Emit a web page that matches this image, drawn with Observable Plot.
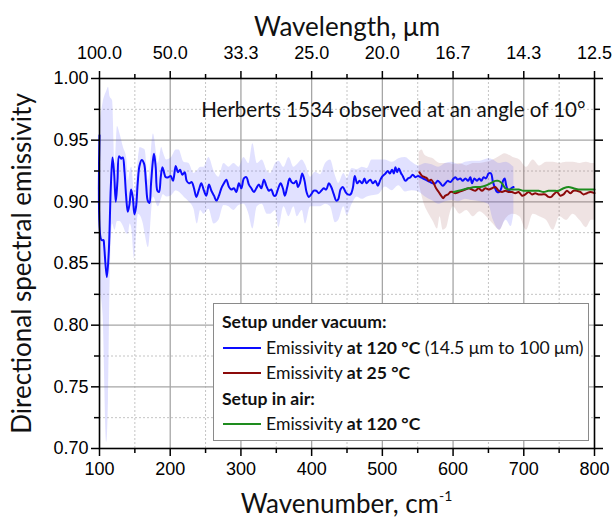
<!DOCTYPE html>
<html><head><meta charset="utf-8">
<script src="https://cdn.jsdelivr.net/npm/d3@7"></script>
<script src="https://cdn.jsdelivr.net/npm/@observablehq/plot@0.6"></script>
<style>
body{margin:0;background:#fff}
#wrap{position:relative;width:613px;height:525px;overflow:hidden}
#legend{position:absolute;left:213px;top:303px;width:374px;height:131px;border:1px solid #8a8a8a;background:#fff;font-family:Lato,"Open Sans",sans-serif;font-size:17.6px;color:#111;padding-top:5px;box-sizing:content-box}
#legend .row{height:25.5px;line-height:25.5px;white-space:nowrap;position:relative}
#legend .hdr{font-weight:bold;padding-left:8px}
#legend .item{padding-left:52px}
#legend .sw{position:absolute;left:9px;top:12px;width:38px;height:0;border-top:2px solid}
</style>
</head><body><div id="wrap"></div>
<script>
// ---- data (wavenumber cm^-1, emissivity) ----
const vacuum120 = [[100,0.954],[102.8,0.869],[105.6,0.869],[106.5,0.865],[110.3,0.839],[113,0.858],[116,0.912],[118.4,0.936],[120.7,0.923],[123,0.900],[125.4,0.917],[127.7,0.937],[130.5,0.935],[132.9,0.936],[135.3,0.925],[137.6,0.905],[140,0.892],[142.4,0.898],[144.7,0.910],[147,0.904],[149.4,0.890],[151.7,0.896],[154,0.915],[156.5,0.929],[159.7,0.934],[163,0.931],[165.8,0.915],[168.2,0.901],[170.6,0.899],[172.9,0.915],[175.3,0.932],[177.1,0.939],[179.5,0.928],[181.9,0.909],[184.2,0.908],[186.6,0.920],[189,0.928],[191.2,0.924],[193.6,0.920],[197.5,0.920],[200.7,0.921],[204,0.917],[207.8,0.929],[211,0.924],[213.9,0.926],[217.2,0.922],[220.5,0.924],[223.3,0.917],[226.6,0.915],[230.4,0.916],[233.6,0.911],[237,0.904],[240.7,0.910],[244,0.915],[247.7,0.909],[251.1,0.905],[254.8,0.914],[258.2,0.909],[261.9,0.905],[265.3,0.901],[268.9,0.905],[272.3,0.911],[276,0.915],[279.4,0.918],[283.1,0.912],[286.4,0.910],[290.1,0.911],[293.5,0.908],[297.2,0.915],[300.6,0.911],[304.2,0.919],[307.6,0.920],[311.3,0.914],[314.7,0.911],[318.4,0.908],[321.8,0.911],[325.4,0.914],[328.8,0.911],[332.5,0.918],[335.9,0.913],[339.6,0.909],[342.9,0.910],[346.6,0.905],[349,0.905],[352.8,0.911],[356.1,0.915],[359.3,0.911],[362.1,0.905],[365.5,0.912],[368.8,0.919],[371.6,0.916],[374.9,0.915],[378.2,0.917],[380.5,0.912],[383.3,0.915],[386.7,0.923],[390,0.917],[392.8,0.908],[396,0.904],[399.4,0.906],[403.1,0.909],[406.5,0.909],[410.2,0.907],[413.6,0.909],[417.2,0.911],[420.6,0.910],[424.3,0.915],[427.7,0.912],[431.4,0.906],[434.7,0.901],[437.6,0.902],[440.8,0.910],[444.1,0.912],[447.9,0.908],[451.1,0.906],[455,0.906],[458.2,0.911],[461,0.921],[464.4,0.915],[467.7,0.917],[471.5,0.915],[474.7,0.919],[477.5,0.915],[480.8,0.917],[483.2,0.918],[486.4,0.915],[490.3,0.917],[493.5,0.913],[497.3,0.918],[500.6,0.921],[504.4,0.923],[507.6,0.925],[510.5,0.923],[513.8,0.926],[516.1,0.923],[518.5,0.928],[520.9,0.924],[523.2,0.927],[526.6,0.923],[528.8,0.921],[532.6,0.917],[536.4,0.919],[539.7,0.920],[542.9,0.922],[546.8,0.920],[550.6,0.921],[553.8,0.920],[557.1,0.919],[560.9,0.918],[564.1,0.917],[567.9,0.916],[571.2,0.915],[575,0.915],[578.2,0.917],[582.1,0.915],[585.3,0.913],[589.1,0.915],[592.4,0.917],[596.2,0.916],[599.4,0.918],[603.2,0.920],[606.5,0.918],[610.3,0.919],[613.6,0.917],[617.4,0.919],[621.2,0.917],[624.4,0.920],[626.8,0.915],[630.1,0.919],[633.9,0.917],[637.1,0.919],[640,0.917],[643.2,0.920],[646.6,0.919],[650.3,0.923],[653.7,0.923],[656,0.917],[658.8,0.912],[662.2,0.908],[665.4,0.908],[668.2,0.911],[670.6,0.917],[672.9,0.919],[675.3,0.913],[678.5,0.909],[682.3,0.911],[685.6,0.912]];
// [wavenumber, lower, upper]
const vacuum120Band = [[100,0.83,0.96],[105,0.809,0.98],[110.5,0.705,0.99],[112.7,0.74,0.993],[115,0.836,0.985],[118.5,0.882,0.982],[122,0.877,0.931],[125.4,0.884,0.961],[129,0.884,0.955],[133.9,0.880,0.944],[138.6,0.874,0.935],[141,0.874,0.917],[143.3,0.882,0.925],[145.7,0.878,0.928],[149.4,0.854,0.909],[150.4,0.858,0.909],[155,0.890,0.935],[157.5,0.889,0.944],[162,0.882,0.943],[164.5,0.874,0.942],[169.2,0.863,0.917],[176.2,0.904,0.955],[183.3,0.896,0.931],[188,0.903,0.944],[190.3,0.906,0.940],[195,0.904,0.934],[202,0.905,0.936],[208.4,0.909,0.942],[212.5,0.908,0.942],[219.5,0.904,0.932],[226.6,0.900,0.931],[233.6,0.894,0.923],[238.3,0.882,0.925],[243,0.893,0.928],[247.7,0.890,0.928],[254.8,0.894,0.936],[261.9,0.882,0.925],[268.9,0.885,0.920],[276,0.897,0.931],[283.1,0.896,0.928],[290.1,0.893,0.931],[297.2,0.897,0.928],[304.2,0.898,0.936],[311.3,0.890,0.931],[316.9,0.878,0.947],[323.1,0.896,0.931],[330.1,0.898,0.934],[337.2,0.890,0.925],[342,0.890,0.923],[349,0.893,0.931],[353.7,0.879,0.933],[360.8,0.896,0.928],[368,0.888,0.936],[374.9,0.896,0.928],[379.6,0.888,0.930],[386.7,0.893,0.934],[391.4,0.882,0.930],[398.5,0.896,0.920],[405.5,0.896,0.924],[412.6,0.896,0.922],[419.6,0.898,0.931],[426.7,0.896,0.934],[433.7,0.883,0.921],[438.4,0.885,0.915],[445.5,0.896,0.923],[450.2,0.889,0.919],[457.3,0.898,0.927],[464.4,0.904,0.926],[471.5,0.902,0.928],[478.5,0.904,0.927],[485.5,0.905,0.934],[495,0.906,0.934],[504.4,0.912,0.934],[513.8,0.909,0.932],[523.2,0.913,0.935],[532.6,0.908,0.936],[542,0.909,0.932],[551.5,0.908,0.929],[560.9,0.904,0.931],[570.3,0.901,0.930],[579.7,0.898,0.928],[589.1,0.900,0.931],[598.5,0.901,0.932],[607.9,0.900,0.930],[617.4,0.902,0.932],[626.8,0.901,0.933],[638,0.900,0.933],[650,0.898,0.935],[657,0.885,0.934],[666,0.877,0.931],[675,0.885,0.932],[682,0.880,0.930],[686,0.890,0.928]];
const vacuum25 = [[552.4,0.924],[556.2,0.921],[559.9,0.920],[563.3,0.919],[565.5,0.917],[568.9,0.918],[572.6,0.915],[576,0.911],[579.7,0.908],[583.1,0.905],[585.9,0.903],[589.1,0.905],[592.9,0.906],[596.2,0.908],[599.4,0.908],[603.2,0.907],[607.9,0.908],[612.7,0.909],[617.4,0.910],[622,0.911],[626.8,0.910],[631.5,0.909],[636.1,0.911],[640.9,0.909],[645.6,0.911],[650.3,0.910],[655.1,0.911],[659.7,0.912],[664.4,0.909],[669.2,0.908],[673.9,0.909],[678.5,0.908],[683.3,0.908],[688,0.907],[692.7,0.908],[697.5,0.905],[702.1,0.906],[706.8,0.908],[711.6,0.906],[716.2,0.907],[720.9,0.906],[725.7,0.906],[730.4,0.906],[735,0.904],[738.8,0.904],[742.1,0.906],[746.9,0.908],[751.6,0.905],[756.2,0.906],[761,0.909],[765.7,0.907],[770.3,0.909],[775.1,0.909],[779.8,0.908],[784.5,0.906],[789.3,0.907],[793.9,0.908],[800,0.907]];
const vacuum25Band = [[552,0.915,0.940],[556,0.905,0.942],[560,0.897,0.938],[566,0.890,0.936],[572,0.884,0.935],[578,0.878,0.932],[581.5,0.888,0.931],[586,0.877,0.931],[590.9,0.879,0.931],[595.6,0.890,0.931],[600.3,0.896,0.930],[609.7,0.890,0.931],[619.2,0.893,0.929],[628.6,0.888,0.931],[638,0.892,0.931],[647.4,0.888,0.932],[656.8,0.882,0.934],[666.3,0.877,0.937],[673.3,0.885,0.939],[685,0.890,0.936],[694.4,0.888,0.934],[703.8,0.877,0.928],[713.3,0.890,0.934],[722.7,0.888,0.929],[732.1,0.885,0.932],[741.5,0.877,0.932],[751,0.888,0.931],[760.4,0.885,0.932],[769.8,0.890,0.932],[779.2,0.885,0.931],[788.6,0.879,0.932],[795.7,0.885,0.931],[800,0.885,0.931]];
const air120 = [[600.9,0.908],[607.9,0.909],[615,0.910],[622,0.911],[631.5,0.912],[638.6,0.912],[645.6,0.913],[652.8,0.915],[659.7,0.917],[664.4,0.917],[669.2,0.915],[673.9,0.911],[678.5,0.910],[685.6,0.910],[692.7,0.910],[699.7,0.909],[706.8,0.909],[713.8,0.909],[720.9,0.909],[728,0.908],[735,0.909],[742.1,0.909],[749.2,0.909],[756.2,0.911],[763.3,0.912],[770.3,0.911],[777.4,0.910],[784.5,0.910],[791.5,0.910],[800,0.910]];

const xTicks = [100,200,300,400,500,600,700,800];
const xMinor = [150,250,350,450,550,650,750];
const wavelengthLabels = ["100.0","50.0","33.3","25.0","20.0","16.7","14.3","12.5"];
const yTicks = [0.70,0.75,0.80,0.85,0.90,0.95,1.00];
const yMinor = [0.725,0.775,0.825,0.875,0.925,0.975];
const xTitle = "Wavenumber, cm";
const xTitleSup = "-1";
const topTitle = "Wavelength, μm";
const yTitle = "Directional spectral emissivity";
const note = "Herberts 1534 observed at an angle of 10°";

const titleFont = "Lato, 'Open Sans', sans-serif";
const X = d => d[0], Y = d => d[1];

const chart = Plot.plot({
  width: 613, height: 525,
  marginLeft: 99, marginRight: 19, marginTop: 78, marginBottom: 77,
  x: {domain: [100, 800]},
  y: {domain: [0.70, 1.00]},
  style: {fontFamily: "'Liberation Sans', Arial, sans-serif", fontSize: "18px", color: "#000", background: "#fff"},
  marks: [
    Plot.ruleX(xMinor, {stroke: "#c4c4c4", strokeDasharray: "2,2"}),
    Plot.ruleY(yMinor, {stroke: "#c4c4c4", strokeDasharray: "2,2"}),
    Plot.ruleX(xTicks.slice(1, -1), {stroke: "#a6a6a6", strokeWidth: 1.3}),
    Plot.ruleY(yTicks.slice(1, -1), {stroke: "#a6a6a6", strokeWidth: 1.3}),
    Plot.areaY(vacuum25Band, {x: X, y1: d => d[1], y2: d => d[2], fill: "#a05858", fillOpacity: 0.17, curve: "monotone-x"}),
    Plot.areaY(vacuum120Band, {x: X, y1: d => d[1], y2: d => d[2], fill: "#5a5aff", fillOpacity: 0.18, curve: "monotone-x"}),
    Plot.line(vacuum120, {x: X, y: Y, stroke: "#0c0cff", strokeWidth: 2, curve: "catmull-rom"}),
    Plot.line(vacuum25, {x: X, y: Y, stroke: "#8c0a0a", strokeWidth: 2, curve: "catmull-rom"}),
    Plot.line(air120, {x: X, y: Y, stroke: "#1e8c1e", strokeWidth: 2, curve: "catmull-rom"}),
    Plot.frame({stroke: "#000", strokeWidth: 1.6}),
    Plot.axisX({anchor: "bottom", ticks: xTicks, tickSize: 8, tickPadding: 6, strokeWidth: 1.5, label: null, tickFormat: d => String(d)}),
    Plot.axisX({anchor: "bottom", ticks: xMinor, tickSize: 5, strokeWidth: 1.5, label: null, tickFormat: () => ""}),
    Plot.axisX({anchor: "top", ticks: xTicks, tickSize: 8, tickPadding: 12, strokeWidth: 1.5, label: null, tickFormat: (d) => wavelengthLabels[xTicks.indexOf(d)]}),
    Plot.axisX({anchor: "top", ticks: xMinor, tickSize: 5, strokeWidth: 1.5, label: null, tickFormat: () => ""}),
    Plot.axisY({anchor: "left", ticks: yTicks, tickSize: 8, tickPadding: 3, strokeWidth: 1.5, label: null, tickFormat: d3.format(".2f")}),
    Plot.axisY({anchor: "left", ticks: yMinor, tickSize: 5, strokeWidth: 1.5, label: null, tickFormat: () => ""}),
    Plot.axisY({anchor: "right", ticks: yTicks, tickSize: 8, strokeWidth: 1.5, label: null, tickFormat: () => ""}),
    Plot.axisY({anchor: "right", ticks: yMinor, tickSize: 5, strokeWidth: 1.5, label: null, tickFormat: () => ""}),
    Plot.text([topTitle], {frameAnchor: "top", dy: -61, fontSize: 26, fontFamily: titleFont, fill: "#111"}),
    Plot.text([yTitle], {frameAnchor: "left", textAnchor: "middle", rotate: -90, dx: -77, fontSize: 26, fontFamily: titleFont, fill: "#111"}),
    Plot.text([note], {frameAnchor: "top-right", textAnchor: "end", dx: -9, dy: 24, fontSize: 20.5, fontFamily: titleFont, fill: "#111"})
  ]
});

// bottom axis title with superscript
const svg = d3.select(chart);
const t = svg.append("text")
  .attr("x", (99 + 594) / 2).attr("y", 513)
  .attr("text-anchor", "middle")
  .attr("font-family", titleFont).attr("font-size", 26).attr("fill", "#111");
t.append("tspan").text(xTitle);
t.append("tspan").attr("font-size", 14).attr("dy", -12).text(xTitleSup);

const wrap = document.getElementById("wrap");
wrap.appendChild(chart);

// legend
const legendRows = [
  {type: "hdr", html: "Setup under vacuum:"},
  {type: "item", color: "#0c0cff", html: "Emissivity <b>at 120 °C</b> (14.5 μm to 100 μm)"},
  {type: "item", color: "#8c0a0a", html: "Emissivity <b>at 25 °C</b>"},
  {type: "hdr", html: "Setup in air:"},
  {type: "item", color: "#1e8c1e", html: "Emissivity <b>at 120 °C</b>"}
];
const lg = document.createElement("div");
lg.id = "legend";
for (const r of legendRows) {
  const row = document.createElement("div");
  row.className = "row " + r.type;
  if (r.type === "item") {
    const sw = document.createElement("span");
    sw.className = "sw"; sw.style.borderTopColor = r.color;
    row.appendChild(sw);
  }
  const s = document.createElement("span");
  s.innerHTML = r.html;
  row.appendChild(s);
  lg.appendChild(row);
}
wrap.appendChild(lg);
</script></body></html>
